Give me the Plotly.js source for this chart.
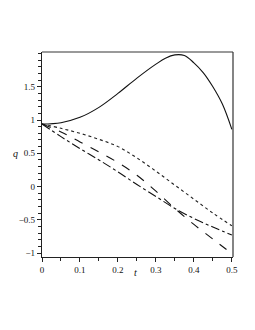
<!DOCTYPE html>
<html><head><meta charset="utf-8">
<script src="https://cdn.plot.ly/plotly-3.0.1.min.js"></script>
<style>html,body{margin:0;padding:0;background:#fff;}#c{width:255px;height:330px;}</style>
</head><body><div id="c"></div>
<script>
const tSolid = [0, 0.05, 0.1, 0.15, 0.2, 0.25, 0.3, 0.325, 0.35, 0.375, 0.4, 0.425, 0.45, 0.475, 0.5];
const qSolid = [0.94, 0.96, 1.04, 1.19, 1.40, 1.63, 1.84, 1.93, 1.98, 1.97, 1.86, 1.71, 1.50, 1.24, 0.86];
const tBroken = [0, 0.05, 0.1, 0.15, 0.2, 0.25, 0.3, 0.35, 0.4, 0.45, 0.5];
const qDotted = [0.94, 0.875, 0.80, 0.71, 0.60, 0.43, 0.23, 0.02, -0.19, -0.40, -0.59];
const qDashed = [0.94, 0.82, 0.67, 0.52, 0.36, 0.17, -0.07, -0.33, -0.57, -0.79, -1.01];
const qDashDot = [0.94, 0.75, 0.57, 0.40, 0.22, 0.03, -0.15, -0.33, -0.48, -0.61, -0.73];
const xTicks = [0, 0.1, 0.2, 0.3, 0.4, 0.5];
const xTickText = ['0', '0.1', '0.2', '0.3', '0.4', '0.5'];
const yTicks = [-1, -0.5, 0, 0.5, 1, 1.5];
const yTickText = ['\u22121', '\u22120.5', '0', '0.5', '1', '1.5'];

const mk = (x, y, dash, color) => ({x, y, type: 'scatter', mode: 'lines',
  line: {color, width: 1.1, dash, shape: 'spline', smoothing: 1}, hoverinfo: 'skip'});
const data = [
  mk(tSolid, qSolid, 'solid', '#111'),
  mk(tBroken, qDotted, 'dot', '#222'),
  mk(tBroken, qDashed, 'dash', '#111'),
  mk(tBroken, qDashDot, 'dashdot', '#111')
];
const serif = "'Liberation Serif', 'Times New Roman', serif";
const tf = {family: serif, size: 9, color: '#111'};
const layout = {
  width: 255, height: 330,
  margin: {l: 42, r: 22, t: 52, b: 73},
  paper_bgcolor: '#fff', plot_bgcolor: '#fff',
  showlegend: false,
  xaxis: {range: [0, 0.503], tickvals: xTicks, ticktext: xTickText, ticks: 'outside', ticklen: 4,
    tickcolor: '#222', showline: true, linecolor: '#222', linewidth: 1.2, showgrid: false, zeroline: false,
    tickfont: tf, minor: {dtick: 0.05, tick0: 0, ticks: 'outside', ticklen: 3, tickcolor: '#222', showgrid: false}},
  yaxis: {range: [-1.06, 2.023], tickvals: yTicks, ticktext: yTickText, ticks: 'outside', ticklen: 4,
    tickcolor: '#222', showline: true, linecolor: '#222', linewidth: 1.2, showgrid: false, zeroline: false,
    tickfont: tf, minor: {dtick: 0.1, tick0: 0, ticks: 'outside', ticklen: 2.5, tickcolor: '#222', showgrid: false}},
  annotations: [
    {text: '<i>t</i>', xref: 'paper', yref: 'paper', x: 0.49, y: -0.078, showarrow: false,
     font: {family: serif, size: 10, color: '#111'}, xanchor: 'center', yanchor: 'middle'},
    {text: '<i>q</i>', xref: 'paper', yref: 'paper', x: -0.14, y: 0.505, showarrow: false,
     font: {family: serif, size: 10, color: '#111'}, xanchor: 'center', yanchor: 'middle'}
  ],
  shapes: [
    {type: 'line', xref: 'paper', yref: 'paper', x0: 0, x1: 1, y0: 1, y1: 1, line: {color: '#999', width: 2}},
    {type: 'line', xref: 'paper', yref: 'paper', x0: 1, x1: 1, y0: 0, y1: 1, line: {color: '#333', width: 1.2}}
  ]
};
Plotly.newPlot('c', data, layout, {displayModeBar: false, staticPlot: true});
</script></body></html>
